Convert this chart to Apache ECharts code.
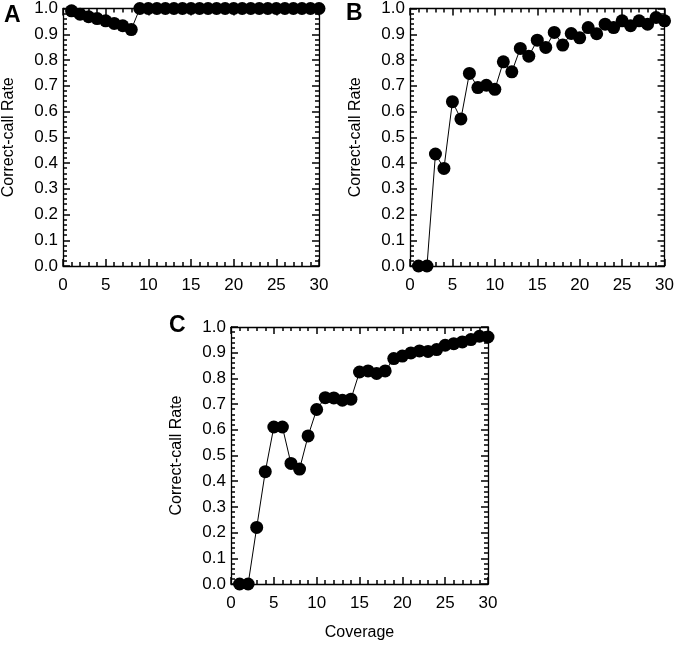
<!DOCTYPE html>
<html>
<head>
<meta charset="utf-8">
<script src="https://cdn.jsdelivr.net/npm/echarts@6/dist/echarts.min.js"></script>
<style>
html,body{margin:0;padding:0;background:#fff;}
#chart{width:677px;height:646px;}
</style>
</head>
<body>
<div id="chart"></div>
<script>
const coverage = [1,2,3,4,5,6,7,8,9,10,11,12,13,14,15,16,17,18,19,20,21,22,23,24,25,26,27,28,29,30];
const rateA = [0.991,0.978,0.968,0.961,0.952,0.942,0.933,0.918,1.0,1.0,1.0,1.0,1.0,1.0,1.0,1.0,1.0,1.0,1.0,1.0,1.0,1.0,1.0,1.0,1.0,1.0,1.0,1.0,1.0,1.0];
const rateB = [0,0,0.435,0.379,0.638,0.571,0.748,0.693,0.702,0.686,0.793,0.754,0.845,0.815,0.877,0.849,0.907,0.858,0.903,0.886,0.926,0.902,0.939,0.926,0.952,0.933,0.952,0.939,0.965,0.952];
const rateC = [0,0,0.22,0.437,0.611,0.611,0.469,0.447,0.576,0.679,0.725,0.724,0.715,0.719,0.825,0.829,0.819,0.829,0.877,0.887,0.899,0.907,0.905,0.912,0.929,0.935,0.942,0.951,0.964,0.961];
const xTicks = {min:0, max:30, interval:5};
const yTicks = {min:0, max:1, interval:0.1};
const panelLabels = ['A','B','C'];

const FONT = 'Liberation Sans, Arial, Helvetica, sans-serif';
const grids = [
  {left:62, top:8, width:257, height:258},
  {left:410, top:8, width:256, height:258},
  {left:231, top:327, width:257, height:257}
];
const xAxes = [], yAxes = [], series = [];
const datasets = [rateA, rateB, rateC];
function common() {
  return {
    axisLine:{show:true, onZero:false, lineStyle:{color:'#000', width:1.3}},
    axisTick:{show:true, inside:true, length:7, lineStyle:{color:'#000', width:1.5}},
    minorTick:{show:true, splitNumber:5, length:4, lineStyle:{color:'#000', width:1.5}},
    splitLine:{show:false}, minorSplitLine:{show:false}
  };
}
grids.forEach((g, i) => {
  xAxes.push(Object.assign({
    type:'value', gridIndex:i, position:'bottom',
    min:xTicks.min, max:xTicks.max, interval:xTicks.interval,
    axisLabel:{show:true, color:'#000', fontFamily:FONT, fontSize:17, margin:11},
    name: i === 2 ? 'Coverage' : '', nameLocation:'middle', nameGap:41,
    nameTextStyle:{color:'#000', fontFamily:FONT, fontSize:16}
  }, common()));
  xAxes.push(Object.assign({
    type:'value', gridIndex:i, position:'top',
    min:xTicks.min, max:xTicks.max, interval:xTicks.interval,
    axisLabel:{show:false}
  }, common()));
  yAxes.push(Object.assign({
    type:'value', gridIndex:i, position:'left',
    min:yTicks.min, max:yTicks.max, interval:yTicks.interval,
    axisLabel:{show:true, color:'#000', fontFamily:FONT, fontSize:17, margin:5,
      formatter:v => v.toFixed(1)},
    name:'Correct-call Rate', nameLocation:'middle', nameGap:46, nameRotate:90,
    nameTextStyle:{color:'#000', fontFamily:FONT, fontSize:16}
  }, common()));
  yAxes.push(Object.assign({
    type:'value', gridIndex:i, position:'right',
    min:yTicks.min, max:yTicks.max, interval:yTicks.interval,
    axisLabel:{show:false}
  }, common()));
  series.push({
    type:'line', xAxisIndex:i*2, yAxisIndex:i*2,
    data: coverage.map((c, k) => [c, datasets[i][k]]),
    symbol:'circle', symbolSize:13, showSymbol:true,
    lineStyle:{color:'#000', width:1},
    itemStyle:{color:'#000'},
    clip:false, animation:false, z:3
  });
});

const chart = echarts.init(document.getElementById('chart'), null, {renderer:'canvas'});
chart.setOption({
  backgroundColor:'#fff',
  animation:false,
  grid: grids.map(g => Object.assign({containLabel:false}, g)),
  xAxis: xAxes,
  yAxis: yAxes,
  series: series,
  graphic: [
    {type:'text', left:4, top:4, style:{text:panelLabels[0], font:'bold 23px ' + FONT, fill:'#000'}},
    {type:'text', left:346, top:2, style:{text:panelLabels[1], font:'bold 23px ' + FONT, fill:'#000'}},
    {type:'text', left:169, top:314, style:{text:panelLabels[2], font:'bold 23px ' + FONT, fill:'#000'}}
  ]
});
</script>
</body>
</html>
